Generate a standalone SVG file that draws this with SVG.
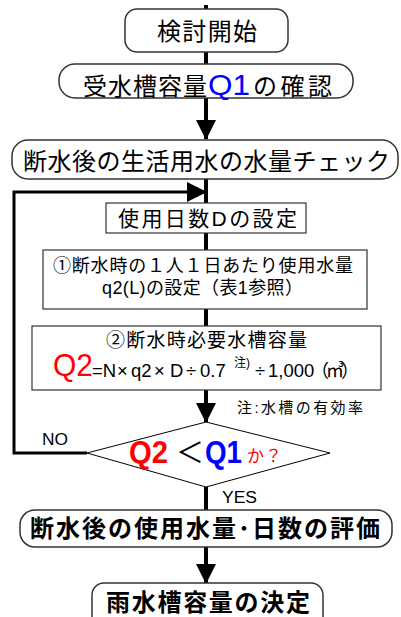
<svg xmlns="http://www.w3.org/2000/svg" width="401" height="617" viewBox="0 0 401 617">
<style>
.t{font-family:"Liberation Sans","Noto Sans CJK JP",sans-serif;fill:#000}
.b{font-weight:bold}
.rbox{fill:#fff;stroke:#333;stroke-width:1.5}
.sbox{fill:#fff;stroke:#333;stroke-width:1.2}
.main{stroke:#000;stroke-width:4;fill:none}
.loop{stroke:#000;stroke-width:3;fill:none}
.red{fill:#ff0000}
.blue{fill:#0000ff}
</style>
<defs>
<marker id="ah" markerUnits="userSpaceOnUse" markerWidth="24" markerHeight="20" viewBox="0 0 24 20" refX="19" refY="10" orient="auto">
<path d="M0,0 L20,10 L0,20 Z" fill="#000"/>
</marker>
</defs>
<rect width="401" height="617" fill="#fff"/>
<g id="connectors">
<line class="main" x1="206" y1="5" x2="206" y2="9"/>
<line class="main" x1="206" y1="52" x2="206" y2="64"/>
<line class="main" x1="206" y1="98" x2="206" y2="139" marker-end="url(#ah)"/>
<line class="main" x1="206" y1="179" x2="206" y2="203"/>
<line class="main" x1="206" y1="233" x2="206" y2="250"/>
<line class="main" x1="206" y1="309" x2="206" y2="326"/>
<line class="main" x1="206" y1="390" x2="206" y2="422" marker-end="url(#ah)"/>
<line class="main" x1="206" y1="487" x2="206" y2="510"/>
<line class="main" x1="206" y1="547" x2="206" y2="583" marker-end="url(#ah)"/>
<polyline class="loop" points="87,453 14,453 14,192 206,192" marker-end="url(#ah)"/>
</g>
<g id="n1">
<rect class="rbox" x="125" y="9" width="163" height="43" rx="12"/>
<text class="t" x="207" y="40" font-size="24" text-anchor="middle" textLength="100">検討開始</text>
</g>
<g id="n2">
<rect class="rbox" x="59" y="64" width="294" height="34" rx="16"/>
<text class="t" x="83" y="95" font-size="24" textLength="124">受水槽容量</text>
<text class="t blue" x="208" y="95" font-size="29" textLength="42" lengthAdjust="spacingAndGlyphs">Q1</text>
<text class="t" x="253" y="95" font-size="24" textLength="79">の確認</text>
</g>
<g id="n3">
<rect class="rbox" x="12" y="140" width="386" height="39" rx="16"/>
<text class="t" x="23" y="170" font-size="24" textLength="367">断水後の生活用水の水量チェック</text>
</g>
<g id="n4">
<rect class="sbox" x="106" y="203" width="200" height="30"/>
<text class="t" x="118" y="226" font-size="21" textLength="179">使用日数Dの設定</text>
</g>
<g id="n5">
<rect class="sbox" x="43" y="250" width="324" height="59"/>
<text class="t" x="53" y="272" font-size="18" textLength="300">①断水時の１人１日あたり使用水量</text>
<text class="t" x="102" y="294" font-size="18" textLength="201">q2(L)の設定（表1参照）</text>
</g>
<g id="n6">
<rect class="sbox" x="32" y="326" width="349" height="64"/>
<text class="t" x="106" y="347" font-size="19" textLength="201">②断水時必要水槽容量</text>
<text class="t red" x="53" y="376" font-size="31" textLength="40" lengthAdjust="spacingAndGlyphs">Q2</text>
<text class="t" y="377" font-size="18.5"><tspan x="92">=N</tspan><tspan x="117">×</tspan><tspan x="131">q2</tspan><tspan x="154">×</tspan><tspan x="170">D</tspan><tspan x="186">÷</tspan><tspan x="200">0.7</tspan><tspan x="255">÷</tspan><tspan x="268">1,000</tspan></text>
<text class="t" x="234" y="367" font-size="12">注)</text>
<text class="t" x="311" y="377" font-size="18" textLength="48">（㎥）</text>
</g>
<g id="note">
<text class="t" x="237" y="413" font-size="15" textLength="126">注:水槽の有効率</text>
</g>
<g id="n7">
<polygon points="206,422 330,453 206,487 87,453" fill="#fff" stroke="#000" stroke-width="1"/>
<text class="t b red" x="129" y="463" font-size="31" textLength="39" lengthAdjust="spacingAndGlyphs">Q2</text>
<text class="t" x="176" y="463" font-size="28" textLength="27">＜</text>
<text class="t b blue" x="205" y="463" font-size="31" textLength="37" lengthAdjust="spacingAndGlyphs">Q1</text>
<text class="t red" x="247" y="462" font-size="17" textLength="35">か？</text>
<text class="t" x="42" y="445" font-size="16" textLength="26" lengthAdjust="spacingAndGlyphs">NO</text>
<text class="t" x="222" y="503" font-size="16" textLength="35" lengthAdjust="spacingAndGlyphs">YES</text>
</g>
<g id="n8">
<rect class="rbox" x="20" y="510" width="372" height="37" rx="15"/>
<text class="t b" x="30" y="537" font-size="24" textLength="350">断水後の使用水量･日数の評価</text>
</g>
<g id="n9">
<rect class="rbox" x="92" y="583" width="231" height="50" rx="12"/>
<text class="t b" x="106" y="611" font-size="24" textLength="204">雨水槽容量の決定</text>
</g>
</svg>
